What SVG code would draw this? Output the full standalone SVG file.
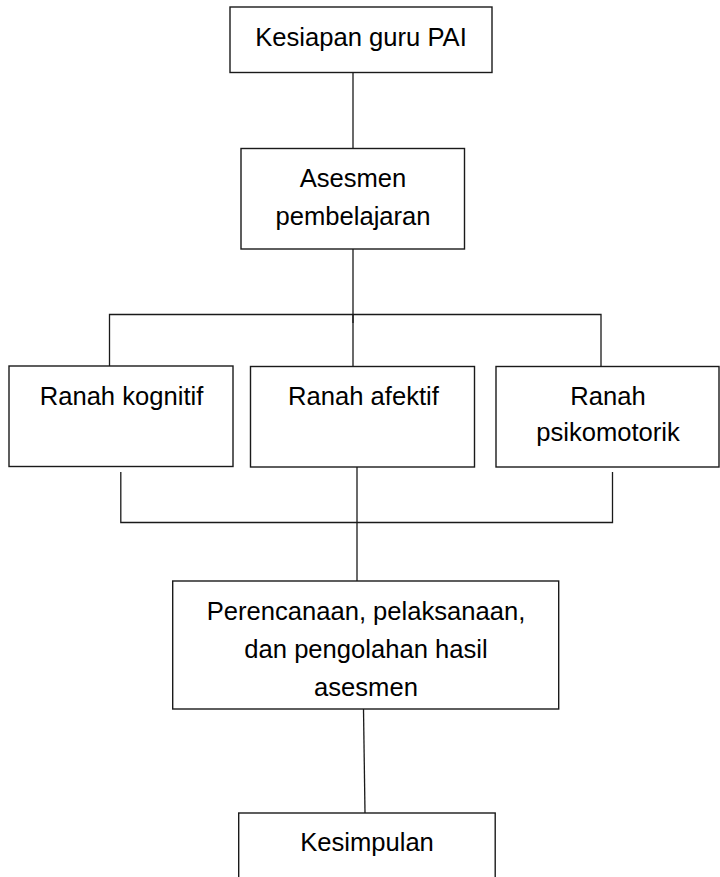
<svg xmlns="http://www.w3.org/2000/svg" width="720" height="877" viewBox="0 0 720 877">
<style>
.box{fill:#fff;stroke:#1a1a1a;stroke-width:1.4}
.ln{fill:none;stroke:#1a1a1a;stroke-width:1.3}
text{font-family:"Liberation Sans",Arial,sans-serif;font-size:25.6px;fill:#000;text-anchor:middle}
</style>
<rect width="720" height="877" fill="#fff"/>
<g id="connectors">
<path class="ln" d="M353 72.5V148.5"/>
<path class="ln" d="M353 248.5V323"/>
<path class="ln" d="M109.5 366V314.5H601V366"/>
<path class="ln" d="M353 314.5V366"/>
<path class="ln" d="M120.8 472V522.5H612.5V472"/>
<path class="ln" d="M357 467V581"/>
<path class="ln" d="M363.5 709L365 813"/>
</g>
<g id="n1"><rect class="box" x="230" y="7" width="262" height="65.5"/><text x="361" y="45.5">Kesiapan guru PAI</text></g>
<g id="n2"><rect class="box" x="241" y="148.5" width="223.5" height="100.5"/><text x="353" y="187">Asesmen</text><text x="353" y="225">pembelajaran</text></g>
<g id="n3"><rect class="box" x="9" y="366" width="224" height="100.5"/><text x="121.5" y="404.5">Ranah kognitif</text></g>
<g id="n4"><rect class="box" x="250.5" y="366.5" width="224" height="100.5"/><text x="363.5" y="404.5">Ranah afektif</text></g>
<g id="n5"><rect class="box" x="496" y="366.5" width="223" height="100.5"/><text x="608" y="404.5">Ranah</text><text x="608" y="440.5">psikomotorik</text></g>
<g id="n6"><rect class="box" x="172.7" y="581" width="386" height="128"/><text x="366" y="619.5">Perencanaan, pelaksanaan,</text><text x="366" y="657.5">dan pengolahan hasil</text><text x="366" y="695.5">asesmen</text></g>
<g id="n7"><rect class="box" x="238.7" y="813" width="256.5" height="90"/><text x="367" y="851">Kesimpulan</text></g>
</svg>
